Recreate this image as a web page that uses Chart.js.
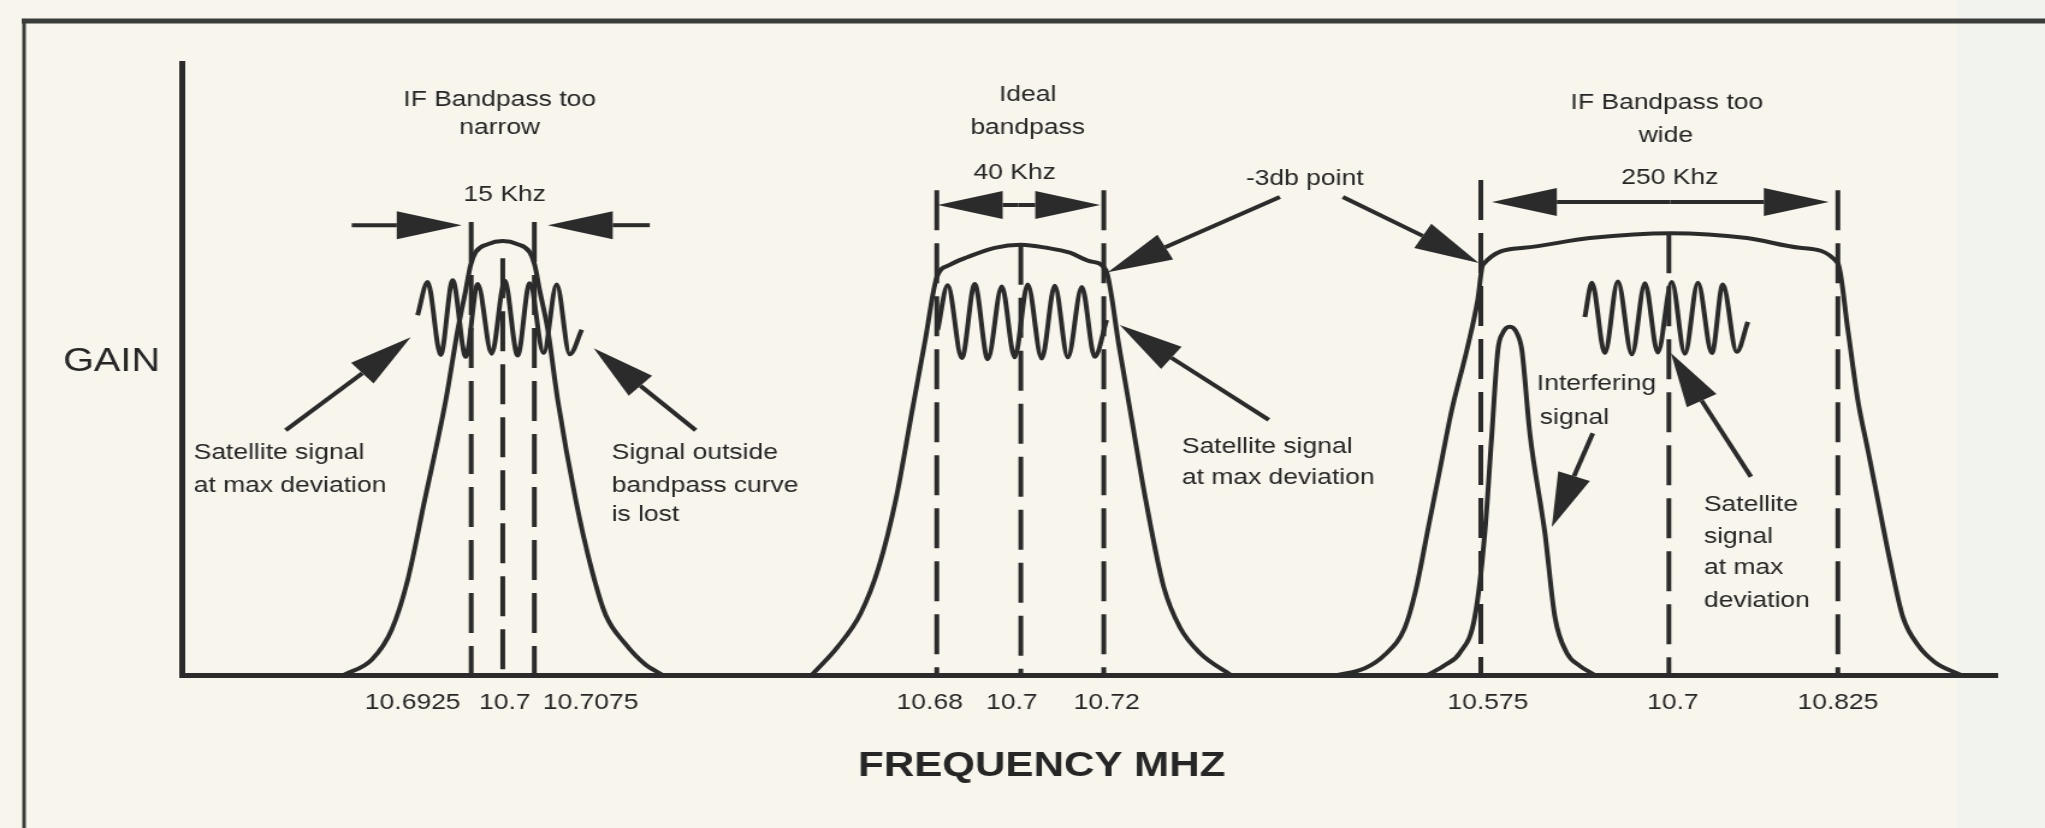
<!DOCTYPE html>
<html>
<head>
<meta charset="utf-8">
<script src="https://cdn.jsdelivr.net/npm/chart.js@4.4.1/dist/chart.umd.min.js"></script>
<style>
  html, body { margin: 0; padding: 0; background: #f8f6ec; overflow: hidden; }
  /* the scanned figure is wider than it is tall, so stretch the canvas sideways */
  #wrap { width: 1700px; height: 828px; transform: scaleX(1.20294); transform-origin: 0 0; }
</style>
</head>
<body>
<div id="wrap"><canvas id="bandpass" width="1700" height="828"></canvas></div>
<script>
// x is a unitless position along the axis (0..1000), y is relative gain (0..100)

// narrow IF bandpass (15 Khz)
const narrowX = [89.3, 104.7, 115.7, 124.5, 133.9, 145.5, 152.1, 156.5, 159.2, 162.0, 168.6, 176.9,
  185.1, 191.7, 194.5, 197.2, 201.7, 207.2, 217.1, 225.9, 233.6, 244.1, 255.1, 265.0];
const narrowGain = [0, 2.5, 7.4, 15.5, 28.6, 44.9, 56.4, 62.9, 67.0, 69.1, 70.4, 70.9,
  70.4, 69.1, 67.0, 62.9, 56.4, 44.9, 28.6, 17.2, 9.8, 5.2, 1.8, 0];

// ideal bandpass (40 Khz)
const idealX = [347.1, 361.4, 374.1, 384.0, 393.4, 402.5, 409.6, 416.0, 423.1, 433.1, 447.9, 462.3,
  476.6, 489.3, 500.3, 509.1, 516.3, 523.4, 531.1, 541.0, 549.9, 560.9, 578.0];
const idealGain = [0, 4.6, 10.1, 17.6, 28.6, 43.3, 54.7, 65.0, 67.0, 68.3, 69.8, 70.3,
  69.8, 69.0, 67.6, 66.2, 53.9, 41.7, 28.6, 14.4, 7.8, 3.6, 0];

// wide IF bandpass (250 Khz)
const wideX = [636.9, 651.8, 662.8, 673.8, 679.9, 686.5, 693.1, 699.7, 708.0, 714.0, 716.8, 739.4,
  775.8, 820.4, 862.3, 891.5, 912.4, 917.9, 923.4, 928.9, 934.4, 941.0, 948.2, 956.5, 965.8, 980.2];
const wideGain = [0, 1.1, 3.3, 7.7, 13.9, 23.7, 33.5, 43.3, 53.1, 61.3, 67.0, 69.8,
  71.4, 72.2, 71.4, 69.8, 67.3, 56.4, 44.9, 36.8, 28.6, 18.8, 9.5, 4.9, 2.1, 0];

// interfering signal inside the wide bandpass
const interferX = [686.5, 695.8, 704.1, 712.4, 717.9, 721.8, 725.1, 727.8, 731.7, 735.5, 738.3,
  742.7, 751.0, 756.5, 763.1, 770.2, 778.5];
const interferGain = [0, 1.6, 3.6, 9.5, 23.2, 39.5, 53.1, 55.9, 56.9, 55.9, 53.1,
  39.5, 23.2, 9.5, 3.6, 1.5, 0];

// satellite signal at max deviation (one squiggle per bandpass)
const waveNarrowX = [130.0, 135.5, 142.7, 149.3, 156.5, 163.1, 170.8, 178.0, 185.1, 191.7, 199.4, 206.6, 213.8, 220.4];
const waveNarrowGain = [58.8, 64.2, 52.3, 64.5, 52.0, 63.9, 52.5, 64.4, 52.2, 64.0, 52.6, 63.8, 52.4, 56.4];
const waveIdealX = [416.5, 422.0, 429.8, 436.9, 444.1, 451.8, 458.9, 466.1, 473.8, 481.0, 488.2, 495.9, 503.0, 509.6];
const waveIdealGain = [56.4, 63.7, 51.8, 63.9, 51.6, 63.5, 51.9, 63.8, 51.7, 63.6, 51.9, 63.4, 52.0, 58.0];
const waveWideX = [773.0, 776.9, 784.0, 791.2, 798.9, 806.1, 813.2, 820.9, 828.1, 835.3, 843.0, 849.0, 856.7, 862.8];
const waveWideGain = [58.5, 64.1, 52.6, 64.3, 52.4, 64.0, 52.7, 64.2, 52.5, 64.1, 52.6, 63.8, 52.8, 57.7];

// dashed frequency markers
const markerX = [159.5, 176.9, 194.3, 416.0, 462.3, 508.0, 715.7, 819.3, 912.4];
const markerTop = [74.0, 68.1, 74.0, 79.2, 70.3, 79.2, 80.9, 72.2, 79.2];

// tick labels under the axis
const tickX = [127.3, 178.0, 225.3, 412.1, 457.3, 509.6, 719.6, 821.5, 912.4];
const tickLabels = ['10.6925', '10.7', '10.7075', '10.68', '10.7', '10.72', '10.575', '10.7', '10.825'];

// arrows: tail -> tip
const arrowFromX = [93.7, 257.9, 57.3, 283.2, 461.0, 461.0, 605.0, 639.7, 598.9, 820.0, 820.0, 864.5, 777.4];
const arrowFromGain = [73.5, 73.5, 40.0, 40.0, 76.8, 76.8, 78.1, 78.1, 41.7, 77.3, 77.3, 32.4, 39.5];
const arrowToX = [154.3, 201.7, 126.2, 227.0, 416.5, 506.0, 510.2, 714.6, 516.8, 721.8, 907.4, 820.4, 754.8];
const arrowToGain = [73.5, 73.5, 55.2, 53.4, 76.8, 76.8, 65.8, 67.3, 57.2, 77.3, 77.3, 52.6, 24.2];

// callout texts
const noteText = ['IF Bandpass too', 'narrow', '15 Khz', 'Ideal', 'bandpass', '40 Khz', '-3db point',
  'IF Bandpass too', 'wide', '250 Khz',
  'Satellite signal', 'at max deviation', 'Signal outside', 'bandpass curve', 'is lost',
  'Satellite signal', 'at max deviation', 'Interfering', 'signal',
  'Satellite', 'signal', 'at max', 'deviation'];
const noteX = [175.2, 175.2, 178.0, 466.1, 466.1, 458.9, 618.7, 818.2, 817.6, 819.8,
  6.6, 6.6, 236.9, 236.9, 236.9, 551.0, 551.0, 746.6, 748.2, 838.6, 838.6, 838.6, 838.6];
const noteGain = [94.0, 89.4, 78.4, 94.8, 89.4, 82.0, 81.0, 93.5, 88.1, 81.2,
  36.3, 30.9, 36.3, 30.9, 26.1, 37.3, 32.2, 47.5, 42.0, 27.8, 22.5, 17.5, 12.1];
const centeredNotes = 10; // first ones are centred, the rest start at their x

const INK = '#2b2b2b';
const TEXT = '#262626';
const FONT = '"Liberation Sans", Arial, Helvetica, sans-serif';

const pts = (xs, ys) => xs.map((x, i) => ({ x: x, y: ys[i] }));

const curve = (xs, ys) => ({
  data: pts(xs, ys),
  borderColor: INK,
  borderWidth: 4,
  pointRadius: 0,
  cubicInterpolationMode: 'monotone',
  fill: false,
});

const datasets = [
  curve(narrowX, narrowGain),
  curve(idealX, idealGain),
  curve(wideX, wideGain),
  curve(interferX, interferGain),
  curve(waveNarrowX, waveNarrowGain),
  curve(waveIdealX, waveIdealGain),
  curve(waveWideX, waveWideGain),
];

markerX.forEach((x, i) => {
  datasets.push({
    data: [{ x: x, y: markerTop[i] }, { x: x, y: 0 }],
    borderColor: INK,
    borderWidth: 4,
    borderDash: [40, 13],
    pointRadius: 0,
  });
});

function drawArrow(ctx, x1, y1, x2, y2) {
  const a = Math.atan2(y2 - y1, x2 - x1);
  const headLen = 54, headHalf = 14;
  const bx = x2 - headLen * Math.cos(a);
  const by = y2 - headLen * Math.sin(a);
  ctx.beginPath();
  ctx.moveTo(x1, y1);
  ctx.lineTo(bx, by);
  ctx.stroke();
  ctx.beginPath();
  ctx.moveTo(x2, y2);
  ctx.lineTo(bx + headHalf * Math.sin(a), by - headHalf * Math.cos(a));
  ctx.lineTo(bx - headHalf * Math.sin(a), by + headHalf * Math.cos(a));
  ctx.closePath();
  ctx.fill();
}

// page frame and the lighter strip on the right edge of the scan
const framePlugin = {
  id: 'frame',
  beforeDraw(chart) {
    const ctx = chart.ctx;
    ctx.save();
    ctx.fillStyle = '#f2f2ee';
    ctx.fillRect(1627, 0, chart.width - 1627, chart.height);
    ctx.strokeStyle = '#3a3d3a';
    ctx.lineWidth = 5;
    ctx.beginPath();
    ctx.moveTo(18, 21);
    ctx.lineTo(chart.width, 21);
    ctx.stroke();
    ctx.lineWidth = 3;
    ctx.beginPath();
    ctx.moveTo(20, 19);
    ctx.lineTo(20, chart.height);
    ctx.stroke();
    ctx.restore();
  }
};

// arrows and callout text, placed in data units
const notesPlugin = {
  id: 'notes',
  afterDatasetsDraw(chart) {
    const ctx = chart.ctx;
    const sx = chart.scales.x, sy = chart.scales.y;
    ctx.save();
    ctx.strokeStyle = INK;
    ctx.fillStyle = INK;
    ctx.lineWidth = 4;
    ctx.lineCap = 'butt';
    arrowFromX.forEach((x, i) => {
      drawArrow(ctx,
        sx.getPixelForValue(x), sy.getPixelForValue(arrowFromGain[i]),
        sx.getPixelForValue(arrowToX[i]), sy.getPixelForValue(arrowToGain[i]));
    });

    ctx.fillStyle = TEXT;
    ctx.textBaseline = 'middle';
    ctx.font = '22px ' + FONT;
    noteText.forEach((t, i) => {
      ctx.textAlign = i < centeredNotes ? 'center' : 'left';
      ctx.fillText(t, sx.getPixelForValue(noteX[i]), sy.getPixelForValue(noteGain[i]));
    });

    // axis names: GAIN written horizontally on the left, frequency under the middle curve
    ctx.textAlign = 'center';
    ctx.font = '33px ' + FONT;
    ctx.fillText('GAIN', sx.getPixelForValue(-38.6), sy.getPixelForValue(51.1));
    ctx.font = 'bold 35px ' + FONT;
    ctx.fillText('FREQUENCY MHZ', sx.getPixelForValue(473.8), sy.getPixelForValue(-15.0));
    ctx.restore();
  }
};

new Chart(document.getElementById('bandpass'), {
  type: 'line',
  data: { datasets: datasets },
  options: {
    responsive: false,
    animation: false,
    devicePixelRatio: 1,
    events: [],
    layout: { padding: { left: 151, right: 40, top: 63, bottom: 0 } },
    plugins: { legend: { display: false }, tooltip: { enabled: false } },
    scales: {
      x: {
        type: 'linear',
        min: 0,
        max: 1000,
        grid: { display: false, drawTicks: false },
        border: { display: true, color: INK, width: 5 },
        afterBuildTicks: (scale) => { scale.ticks = tickX.map((v) => ({ value: v })); },
        afterFit: (scale) => { scale.height = 153; },
        ticks: {
          autoSkip: false,
          maxRotation: 0,
          minRotation: 0,
          padding: 15,
          color: TEXT,
          font: { family: FONT, size: 22 },
          callback: (value, index) => tickLabels[index],
        },
      },
      y: {
        type: 'linear',
        min: 0,
        max: 100,
        grid: { display: false, drawTicks: false },
        border: { display: true, color: INK, width: 5 },
        ticks: { display: false },
        afterFit: (scale) => { scale.width = 0; },
      },
    },
  },
  plugins: [framePlugin, notesPlugin],
});
</script>
</body>
</html>
